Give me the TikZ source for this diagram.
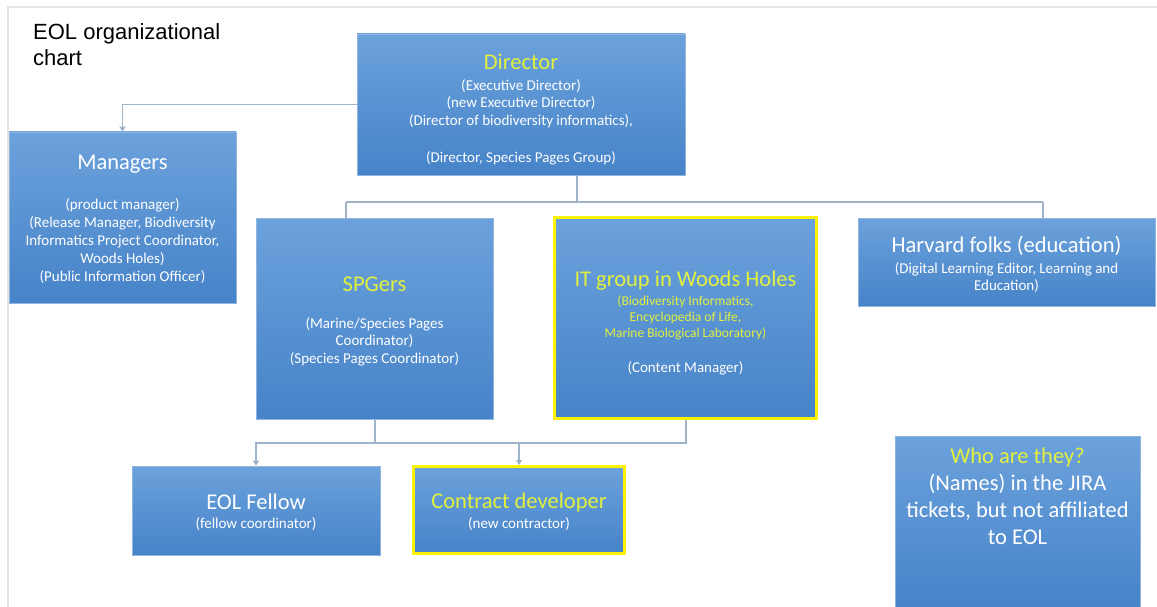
\documentclass[tikz,border=0pt]{standalone}
\usepackage{fontspec}
\setmainfont{Carlito}
\newfontfamily\titlefont{Liberation Sans}
\usetikzlibrary{arrows.meta}
\definecolor{boxtop}{HTML}{6CA2DC}
\definecolor{boxbot}{HTML}{4683C8}
\definecolor{hilite}{HTML}{E2F03E}
\definecolor{linkgray}{HTML}{9FB3C9}
\definecolor{linkblue}{HTML}{6F9BD0}
\definecolor{framegray}{HTML}{E4E4E4}
\newcommand{\rolesize}{\fontsize{15}{17.5}\selectfont}
\newcommand{\smallrole}{\fontsize{13.5}{16}\selectfont}
\newcommand{\bighead}{\fontsize{22.5}{26}\selectfont}
\newcommand{\hl}[1]{\textcolor{hilite}{#1}}
% invisible strut that lowers a centred text block by about half its extra height
\newcommand{\lift}[1]{\rule{0pt}{#1}}
\tikzset{
  unit/.style={draw=boxbot!60!white, line width=0.6pt, top color=boxtop, bottom color=boxbot,
    text=white, align=center, inner sep=2pt, font=\rolesize},
  marked/.style={unit, draw=yellow, line width=3pt},
  link/.style={draw=linkgray, line width=1.5pt},
  feed/.style={draw=linkgray, line width=1.5pt, -{Triangle[width=6pt,length=5pt,fill=linkblue]}},
}
\begin{document}
\begin{tikzpicture}[x=1pt,y=-1pt]
\useasboundingbox (0,0) rectangle (1157,607);
\fill[white] (0,0) rectangle (1157,607);
% slide frame
\draw[framegray, line width=1.5pt] (8,607) -- (8,7) -- (1157,7);

% title
\node[anchor=north west, align=left, inner sep=0, font=\titlefont\fontsize{22}{26}\selectfont] (title) at (33,23)
  {EOL organizational\\chart};

% boxes
\node[unit, minimum width=328, minimum height=141] (dir) at (521,104.5)
  {\lift{26pt}\bighead\hl{Director}\\[3pt]
   \rolesize(Executive Director)\\ (new Executive Director)\\ (Director of biodiversity informatics),\\[19.5pt]
   (Director, Species Pages Group)};

\node[unit, minimum width=227, minimum height=171, font=\fontsize{15}{18}\selectfont] (mgr) at (122.5,217.5)
  {\lift{19pt}\bighead Managers\\[22pt]
   \rolesize(product manager)\\ (Release Manager, Biodiversity\\ Informatics Project Coordinator,\\
   Woods Holes)\\ (Public Information Officer)};

\node[unit, minimum width=237, minimum height=201] (spg) at (374.5,318.5)
  {\lift{21pt}\bighead\hl{SPGers}\\[19pt]
   \rolesize(Marine/Species Pages\\ Coordinator)\\ (Species Pages Coordinator)};

\node[marked, minimum width=262, minimum height=201, font=\smallrole] (itg) at (685.5,318)
  {\lift{25pt}\bighead\hl{IT group in Woods Holes}\\[3pt]
   \smallrole\hl{(Biodiversity Informatics,}\\ \hl{Encyclopedia of Life,}\\
   \hl{Marine Biological Laboratory)}\\[19pt]
   \rolesize(Content Manager)};

\node[unit, minimum width=297, minimum height=88] (hvd) at (1006.5,262)
  {\lift{22pt}\bighead Harvard folks (education)\\[3pt]
   \rolesize(Digital Learning Editor, Learning and\\ Education)};

\node[unit, minimum width=248, minimum height=89] (eol) at (256,510.5)
  {\lift{19pt}\bighead EOL Fellow\\[1pt]
   \rolesize(fellow coordinator)};

\node[marked, minimum width=211, minimum height=87] (con) at (519,510)
  {\lift{19pt}\bighead\hl{Contract developer}\\[2pt]
   \rolesize(new contractor)};

\node[unit, minimum width=245, minimum height=171, anchor=north, font=\fontsize{22.5}{27}\selectfont] (who) at (1017.5,436)
  {\hl{Who are they?}\\ (Names) in the JIRA\\ tickets, but not affiliated\\ to EOL\\[24pt]\mbox{}};

% junction points of the connectors
\coordinate (hub) at (577,202);
\coordinate (spgdrop) at (346,202);
\coordinate (hvddrop) at (1043,202);
\coordinate (lowhub) at (375,443);
\coordinate (itdrop) at (686,443);

% connectors
\draw[feed] (dir.west) -| (mgr.north);
\draw[link] (dir.south -| hub) -- (hub);
\draw[link] (spgdrop) -- (hvddrop);
\draw[link] (spgdrop) -- (spgdrop |- spg.north);
\draw[link] (hvddrop) -- (hvddrop |- hvd.north);
\draw[feed] (spg.south -| lowhub) -- (lowhub) -| (eol.north);
\draw[link] (itg.south -| itdrop) -- (itdrop) -- (lowhub);
\draw[feed] (itdrop -| con.north) -- (con.north);
\end{tikzpicture}
\end{document}
